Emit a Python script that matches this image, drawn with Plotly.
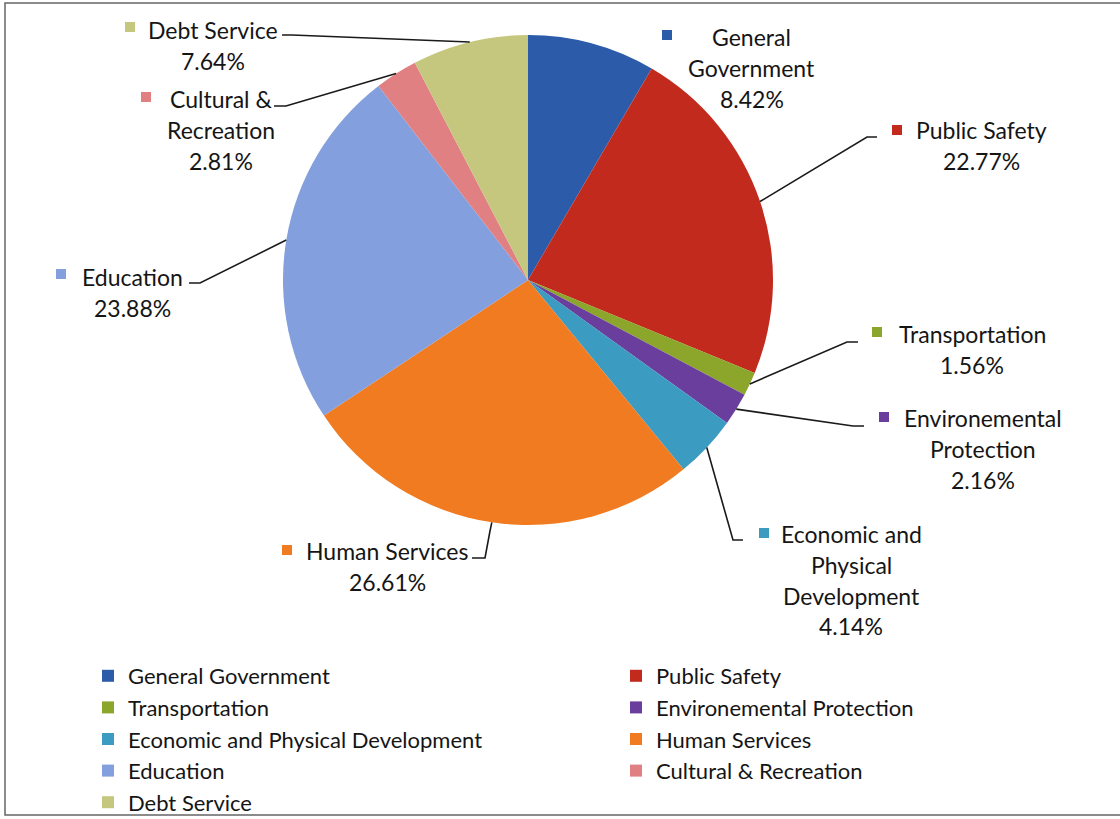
import math
import plotly.graph_objects as go

# Budget share by function (percent of total)
categories = [
    "General Government", "Public Safety", "Transportation",
    "Environemental Protection", "Economic and Physical Development",
    "Human Services", "Education", "Cultural & Recreation", "Debt Service",
]
shares = [8.42, 22.77, 1.56, 2.16, 4.14, 26.61, 23.88, 2.81, 7.64]
colors = ["#2C5CA9", "#C22A1D", "#8CA52B", "#6A3E9C", "#3C9BC1",
          "#F07B20", "#839FDD", "#E08083", "#C5C77E"]

# Text lines of each outside label (last line is the share)
label_lines = [
    ["General", "Government"],
    ["Public Safety"],
    ["Transportation"],
    ["Environemental", "Protection"],
    ["Economic and", "Physical", "Development"],
    ["Human Services"],
    ["Education"],
    ["Cultural &", "Recreation"],
    ["Debt Service"],
]

W, H = 1120, 819
CX, CY, R = 528, 280, 245          # pie centre / radius in pixels
FONT = "Lato"
TXT = "#151515"

# Label placement: text centre x, first-line y, key square (x, y), leader path points
label_pos = [
    dict(cx=752, y0=37, sq=(667, 35), path=None),
    dict(cx=981, y0=130, sq=(897, 130), path=[(877, 137), (867, 137)]),
    dict(cx=972, y0=334, sq=(877, 332), path=[(858, 342), (847, 342)]),
    dict(cx=983, y0=418, sq=(884, 417), path=[(864, 426), (853, 426)]),
    dict(cx=851, y0=534, sq=(764, 533), path=[(743, 540), (733, 540)]),
    dict(cx=387, y0=551, sq=(287, 550), path=[(472, 558), (485, 558), (490, 531)]),
    dict(cx=132, y0=277, sq=(61, 274), path=[(189, 283), (200, 283)]),
    dict(cx=221, y0=99, sq=(146, 97), path=[(274, 106), (286, 106)]),
    dict(cx=213, y0=30, sq=(130, 27), path=[(282, 35), (292, 35)]),
]
LINE_H = 30.8


def px(x):
    return x / W


def py(y):
    return 1 - y / H


fig = go.Figure(go.Pie(
    labels=categories,
    values=shares,
    marker=dict(colors=colors, line=dict(width=0)),
    sort=False,
    direction="clockwise",
    rotation=0,
    textinfo="none",
    hoverinfo="label+percent",
    domain=dict(x=[px(CX - R), px(CX + R)], y=[py(CY + R), py(CY - R)]),
))

annotations = []
shapes = []
total = sum(shares)
cum = 0.0
for name, val, col, lines, pos in zip(categories, shares, colors, label_lines, label_pos):
    mid = (cum + val / 2) / total * 2 * math.pi
    cum += val
    # text lines, then the percentage
    all_lines = lines + [f"{val:.2f}%"]
    for i, t in enumerate(all_lines):
        annotations.append(dict(
            x=px(pos["cx"]), y=py(pos["y0"] + i * LINE_H), xref="paper", yref="paper",
            text=t, showarrow=False, xanchor="center", yanchor="middle",
            font=dict(family=FONT, size=23, color=TXT),
        ))
    # legend key square beside the label
    sx, sy = pos["sq"]
    shapes.append(dict(
        type="rect", xref="paper", yref="paper",
        x0=px(sx - 5), x1=px(sx + 5), y0=py(sy + 5), y1=py(sy - 5),
        fillcolor=col, line=dict(width=0),
    ))
    # leader line from label to the slice edge at its mid angle
    if pos["path"]:
        ex = CX + R * math.sin(mid)
        ey = CY - R * math.cos(mid)
        pts = pos["path"] + [(ex, ey)]
        d = "M " + " L ".join(f"{px(x):.5f},{py(y):.5f}" for x, y in pts)
        shapes.append(dict(type="path", xref="paper", yref="paper", path=d,
                           line=dict(color="#1a1a1a", width=1.6)))

# outer frame
shapes.append(dict(type="rect", xref="paper", yref="paper",
                   x0=px(5), x1=px(1130), y0=py(815), y1=py(3),
                   line=dict(color="#666666", width=1.5), fillcolor="rgba(0,0,0,0)"))

fig.update_layout(
    width=W, height=H,
    margin=dict(l=0, r=0, t=0, b=0, autoexpand=False),
    paper_bgcolor="white",
    plot_bgcolor="white",
    font=dict(family=FONT, size=22, color=TXT),
    showlegend=True,
    legend=dict(
        orientation="h",
        x=px(88), xanchor="left",
        y=py(655), yanchor="top",
        entrywidth=483, entrywidthmode="pixels",
        font=dict(family=FONT, size=22, color=TXT),
        traceorder="normal",
        bgcolor="rgba(0,0,0,0)",
        itemclick=False, itemdoubleclick=False,
    ),
    annotations=annotations,
    shapes=shapes,
)

fig.write_html("out.html")
